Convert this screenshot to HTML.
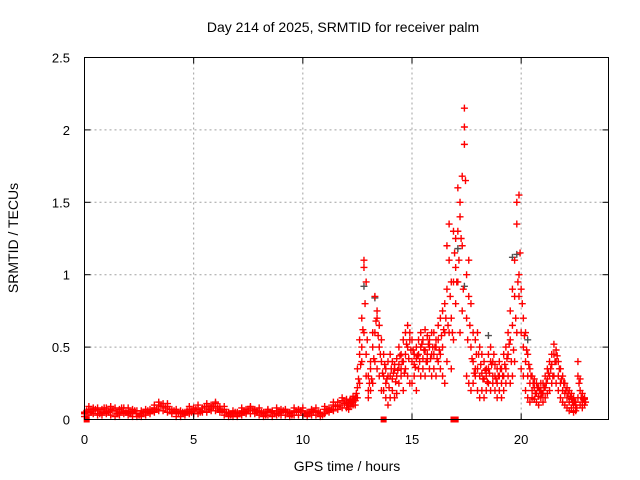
<!DOCTYPE html>
<html><head><meta charset="utf-8"><style>
body{margin:0;background:#fff;}
svg{display:block;font-family:"Liberation Sans",sans-serif;}
</style></head><body>
<svg id="chart" width="640" height="480">
<text x="343" y="32" font-size="14" text-anchor="middle">Day 214 of 2025, SRMTID for receiver palm</text>
<text x="347" y="471" font-size="14" text-anchor="middle">GPS time / hours</text>
<text x="18" y="238" font-size="14" text-anchor="middle" transform="rotate(-90 18 238)">SRMTID / TECUs</text>
<g id="grid"></g><g id="pts"></g><g id="axes"></g>
</svg>
<script>
const xTicks=[0,5,10,15,20];
const yTicks=[0,0.5,1,1.5,2,2.5];
const yTickLabels=["0","0.5","1","1.5","2","2.5"];
const lowStart=0, lowStep=0.2;
const lowA=[0.04,0.07,0.08,0.06,0.07,0.08,0.07,0.06,0.07,0.08,0.06,0.05,0.06,0.04,0.05,0.07,0.08,0.10,0.11,0.09,0.07,0.05,0.04,0.05,0.07,0.08,0.07,0.08,0.09,0.10,0.11,0.09,0.07,0.05,0.04,0.05,0.06,0.07,0.08,0.07,0.06,0.05,0.06,0.05,0.06,0.07,0.06,0.05,0.06,0.07,0.06,0.05,0.07,0.06,0.05,0.07,0.08,0.10,0.12,0.13];
const lowB=[0.02,0.03,0.04,0.03,0.03,0.04,0.03,0.02,0.03,0.04,0.03,0.02,0.02,0.02,0.03,0.04,0.05,0.06,0.06,0.05,0.04,0.02,0.02,0.03,0.04,0.04,0.04,0.05,0.05,0.06,0.06,0.05,0.03,0.02,0.02,0.02,0.03,0.04,0.04,0.04,0.03,0.02,0.03,0.02,0.03,0.03,0.03,0.02,0.03,0.03,0.03,0.02,0.03,0.03,0.02,0.04,0.05,0.06,0.07,0.08];
const lowC=[0.05,0.09,0.06,0.08,0.05,0.06,0.09,0.08,0.05,0.06,0.08,0.07,0.04,0.06,0.07,0.05,0.10,0.12,0.09,0.11,0.05,0.07,0.06,0.04,0.09,0.06,0.10,0.06,0.11,0.08,0.12,0.07,0.09,0.04,0.06,0.03,0.08,0.05,0.09,0.06,0.08,0.04,0.07,0.06,0.08,0.05,0.07,0.04,0.08,0.05,0.08,0.03,0.06,0.08,0.04,0.09,0.06,0.12,0.09,0.15];
const lowD=[0.06,0.05,0.07,0.04,0.08,0.05,0.06,0.04,0.08,0.05,0.04,0.06,0.03,0.05,0.06,0.06,0.07,0.09,0.08,0.07,0.06,0.04,0.05,0.06,0.05,0.07,0.05,0.09,0.07,0.09,0.08,0.06,0.05,0.03,0.05,0.04,0.05,0.06,0.06,0.05,0.05,0.03,0.05,0.04,0.04,0.06,0.05,0.03,0.05,0.06,0.04,0.04,0.05,0.05,0.03,0.06,0.07,0.09,0.10,0.11];
const highStart=12, highStep=0.1;
const highA=[0.12,0.10,0.14,0.12,0.15,0.35,0.55,0.70,1.10,0.95,
0.30,0.40,0.60,0.85,0.70,0.65,0.55,0.45,0.35,0.40,
0.45,0.40,0.38,0.42,0.50,0.45,0.55,0.60,0.65,0.60,
0.55,0.45,0.50,0.55,0.60,0.55,0.62,0.58,0.55,0.60,
0.60,0.55,0.65,0.70,0.75,0.80,1.20,1.35,0.95,1.30,
1.25,1.60,1.50,1.68,2.15,1.00,1.10,0.80,0.60,0.55,
0.60,0.50,0.45,0.40,0.35,0.45,0.50,0.40,0.38,0.35,
0.40,0.35,0.45,0.50,0.60,0.75,0.90,1.10,1.50,1.55,
0.90,0.70,0.60,0.45,0.35,0.30,0.28,0.25,0.22,0.25,
0.25,0.30,0.35,0.40,0.45,0.52,0.48,0.40,0.35,0.30,
0.25,0.22,0.20,0.18,0.15,0.12,0.40,0.28,0.18,0.15];
const highB=[0.08,0.07,0.09,0.10,0.10,0.15,0.25,0.40,0.60,0.45,
0.15,0.20,0.25,0.40,0.35,0.30,0.20,0.20,0.15,0.10,
0.15,0.20,0.15,0.18,0.25,0.30,0.20,0.35,0.30,0.25,
0.25,0.30,0.20,0.35,0.30,0.35,0.30,0.40,0.35,0.30,
0.35,0.30,0.40,0.35,0.30,0.25,0.40,0.60,0.35,0.55,
0.80,0.95,0.60,0.75,1.90,0.30,0.25,0.20,0.25,0.30,
0.20,0.15,0.20,0.15,0.20,0.25,0.20,0.25,0.20,0.15,
0.20,0.15,0.20,0.25,0.30,0.25,0.30,0.40,0.60,0.85,
0.35,0.30,0.20,0.15,0.12,0.15,0.14,0.12,0.10,0.15,
0.12,0.15,0.18,0.20,0.25,0.30,0.25,0.20,0.15,0.12,
0.10,0.08,0.06,0.08,0.05,0.06,0.15,0.10,0.08,0.10];
const highC=[0.14,0.12,0.11,0.16,0.13,0.22,0.45,0.50,1.05,0.30,
0.20,0.35,0.50,0.60,0.75,0.50,0.40,0.30,0.25,0.30,
0.30,0.28,0.35,0.30,0.38,0.35,0.40,0.45,0.50,0.55,
0.40,0.38,0.42,0.45,0.50,0.42,0.48,0.45,0.50,0.45,
0.45,0.50,0.55,0.45,0.50,0.60,0.90,1.10,0.70,0.95,
1.05,1.30,1.40,1.20,2.02,0.70,0.85,0.50,0.40,0.35,
0.35,0.30,0.32,0.28,0.30,0.35,0.40,0.30,0.30,0.25,
0.30,0.25,0.30,0.35,0.45,0.55,0.65,0.85,1.35,1.00,
0.60,0.50,0.40,0.30,0.25,0.20,0.22,0.18,0.16,0.20,
0.18,0.22,0.28,0.30,0.38,0.45,0.40,0.30,0.25,0.20,
0.18,0.15,0.12,0.14,0.10,0.10,0.30,0.20,0.12,0.14];
const highD=[0.10,0.13,0.12,0.14,0.18,0.28,0.38,0.62,0.80,0.55,
0.25,0.28,0.42,0.68,0.58,0.45,0.32,0.38,0.28,0.22,
0.35,0.32,0.26,0.34,0.44,0.40,0.32,0.52,0.42,0.48,
0.48,0.36,0.44,0.40,0.52,0.48,0.40,0.52,0.42,0.50,
0.50,0.42,0.48,0.58,0.62,0.70,0.65,0.85,0.60,1.15,
0.95,1.10,1.25,0.90,1.65,0.55,0.65,0.42,0.32,0.45,
0.45,0.38,0.28,0.34,0.26,0.32,0.38,0.45,0.28,0.30,
0.35,0.30,0.38,0.42,0.52,0.40,0.48,0.70,0.95,1.15,
0.80,0.58,0.48,0.38,0.30,0.25,0.18,0.22,0.20,0.18,
0.22,0.25,0.32,0.35,0.30,0.40,0.44,0.35,0.28,0.25,
0.20,0.18,0.16,0.12,0.12,0.08,0.25,0.15,0.14,0.12];
const greyTimes=[12.8,13.3,17.1,17.4,18.5,19.6,19.8,20.3];
const greyVals=[0.92,0.84,1.18,0.92,0.58,1.12,1.14,0.55];
const zeroTimes=[0.1,13.7,16.9,17.0];
const zeroVals=[0,0,0,0];

const X0=84.5,X1=608.5,Y0=419.5,Y1=57.5,XMAX=24,YMAX=2.5;
const xs=v=>X0+(X1-X0)*v/XMAX;
const ys=v=>Y0-(Y0-Y1)*v/YMAX;
const NS="http://www.w3.org/2000/svg";
function mk(tag,attrs,parent){const e=document.createElementNS(NS,tag);for(const k in attrs)e.setAttribute(k,attrs[k]);parent.appendChild(e);return e;}
const grid=document.getElementById('grid'),pts=document.getElementById('pts'),axes=document.getElementById('axes');
xTicks.forEach((t,i)=>{
  const x=xs(t);
  if(t>0){const g=mk('line',{x1:x,y1:Y0,x2:x,y2:Y1,stroke:'#a0a0a0','stroke-dasharray':'2,3'},grid);
  
  }
  mk('line',{x1:x,y1:Y0,x2:x,y2:Y0-6,stroke:'#000'},axes);
  mk('line',{x1:x,y1:Y1,x2:x,y2:Y1+6,stroke:'#000'},axes);
  const l=mk('text',{x:x,y:444,'font-size':13,'text-anchor':'middle'},axes);l.textContent=String(t);
  
  
});
yTicks.forEach((t,i)=>{
  const y=ys(t);
  if(t>0&&t<YMAX){const g=mk('line',{x1:X0,y1:y,x2:X1,y2:y,stroke:'#a0a0a0','stroke-dasharray':'2,3'},grid);
  
  }
  mk('line',{x1:X0,y1:y,x2:X0+6,y2:y,stroke:'#000'},axes);
  mk('line',{x1:X1,y1:y,x2:X1-6,y2:y,stroke:'#000'},axes);
  const l=mk('text',{x:70,y:y+5,'font-size':13,'text-anchor':'end'},axes);l.textContent=yTickLabels[i];
  
  
});
const frame=mk('rect',{x:X0,y:Y1,width:X1-X0,height:Y0-Y1,fill:'none',stroke:'#000'},axes);


function plus(t,v,color){
  const x=xs(t),y=ys(v);
  const p=mk('path',{d:`M${x-3.5},${y}h7M${x},${y-3.5}v7`,stroke:color,'stroke-width':1.4,fill:'none'},pts);
  
  
}
greyTimes.forEach((t,i)=>plus(t,greyVals[i],'#505050'));
[lowA,lowB,lowC].forEach(arr=>arr.forEach((v,i)=>plus(lowStart+i*lowStep,v,'#ff0000')));
lowD.forEach((v,i)=>plus(lowStart+lowStep/2+i*lowStep,v,'#ff0000'));
[highA,highB,highC].forEach(arr=>arr.forEach((v,i)=>plus(highStart+i*highStep,v,'#ff0000')));
highD.forEach((v,i)=>plus(highStart+highStep/2+i*highStep,v,'#ff0000'));
zeroTimes.forEach((t,i)=>{
  const r=mk('rect',{x:xs(t)-3,y:ys(zeroVals[i])-3,width:6,height:6,fill:'#ff0000'},pts);
  
  
});
</script>
</body></html>
